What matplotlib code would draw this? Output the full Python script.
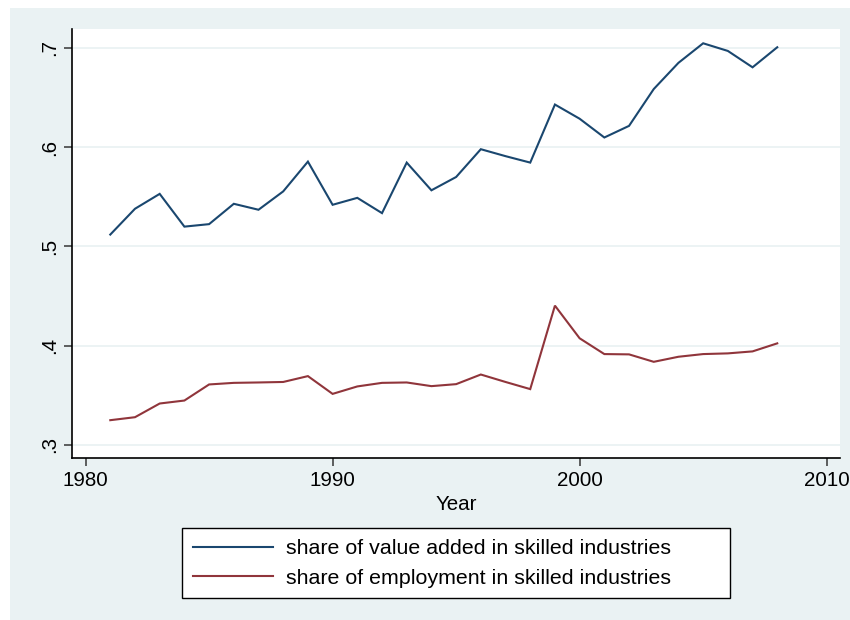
import matplotlib
matplotlib.use("Agg")
import matplotlib.pyplot as plt
from matplotlib.patches import Rectangle

years = list(range(1981, 2009))
value_added = [0.512, 0.538, 0.553, 0.520, 0.5225, 0.543, 0.537, 0.5555, 0.5855, 0.542,
               0.549, 0.5336, 0.5845, 0.5566, 0.570, 0.598, 0.591, 0.5845, 0.643, 0.6287,
               0.6098, 0.6215, 0.6586, 0.685, 0.7047, 0.697, 0.6805, 0.7007]
employment = [0.325, 0.328, 0.3418, 0.3448, 0.361, 0.3626, 0.363, 0.3635, 0.3694, 0.3515,
              0.359, 0.3626, 0.363, 0.3593, 0.3613, 0.371, 0.3635, 0.3563, 0.4404, 0.4075,
              0.3916, 0.3913, 0.3838, 0.3889, 0.3916, 0.3923, 0.3943, 0.4024]
labels = ["share of value added in skilled industries",
          "share of employment in skilled industries"]
xticks = [1980, 1990, 2000, 2010]
yticks = [0.3, 0.4, 0.5, 0.6, 0.7]
yticklabels = [".3", ".4", ".5", ".6", ".7"]

BG = "#eaf2f3"
BLUE = "#1a476f"
RED = "#90353b"

plt.rcParams['font.family'] = ['Liberation Sans', 'DejaVu Sans']

fig = plt.figure(figsize=(8.5, 6.2), dpi=100, facecolor="white")
fig.patches.append(Rectangle((10/850, 0), 1 - 10/850, 1 - 8/620, transform=fig.transFigure,
                             facecolor=BG, edgecolor="none", zorder=-10))

ax = fig.add_axes([72/850, 1 - 458.3/620, 768/850, (458.3 - 29)/620])
ax.set_facecolor("white")
l1, = ax.plot(years, value_added, color=BLUE, lw=1.5, label=labels[0], solid_joinstyle="miter")
l2, = ax.plot(years, employment, color=RED, lw=1.5, label=labels[1], solid_joinstyle="miter")

ax.set_xlim(1979.45, 2010.54)
ax.set_ylim(0.2866, 0.7191)
ax.set_xticks(xticks)
ax.set_xticklabels([str(x) for x in xticks], fontsize=14.8)
ax.set_yticks(yticks)
ax.set_yticklabels(yticklabels, fontsize=14.8, rotation=90, va="center")
ax.yaxis.grid(True, color=BG, lw=1.3)
ax.set_axisbelow(True)
for s in ["top", "right"]:
    ax.spines[s].set_visible(False)
for s in ["left", "bottom"]:
    ax.spines[s].set_linewidth(1.2)
    ax.spines[s].set_color("black")
ax.tick_params(axis="both", length=6, width=1.2, color="#444444", pad=3)
ax.set_xlabel("Year", fontsize=14.8, labelpad=4)

leg_w = 548 / 850
leg_x0 = 182 / 850
leg_yc = 1 - 563.3 / 620
leg = fig.legend(handles=[l1, l2], loc="center", bbox_to_anchor=(leg_x0, leg_yc, leg_w, 0),
                 mode="expand",
                 fontsize=15.4, frameon=True, fancybox=False, framealpha=1, edgecolor="black",
                 handlelength=3.74, handletextpad=0.62, borderpad=0.5, labelspacing=0.49,
                 borderaxespad=0)
leg.get_frame().set_linewidth(1.0)

fig.savefig("out.png", dpi=100, facecolor="white")
